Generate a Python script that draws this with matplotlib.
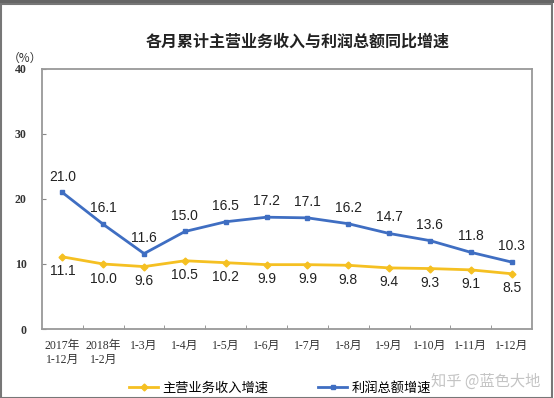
import matplotlib
matplotlib.use("Agg")
import matplotlib.pyplot as plt
from matplotlib.patches import Rectangle
from matplotlib.ticker import FixedLocator

# data
categories = ['2017年\n1-12月', '2018年\n1-2月', '1-3月', '1-4月', '1-5月', '1-6月',
              '1-7月', '1-8月', '1-9月', '1-10月', '1-11月', '1-12月']
revenue = [11.1, 10.0, 9.6, 10.5, 10.2, 9.9, 9.9, 9.8, 9.4, 9.3, 9.1, 8.5]
profit = [21.0, 16.1, 11.6, 15.0, 16.5, 17.2, 17.1, 16.2, 14.7, 13.6, 11.8, 10.3]
y_ticks = [0, 10, 20, 30, 40]

cjk = ['Noto Sans CJK SC', 'DejaVu Sans']
serif = ['Liberation Serif', 'Noto Sans CJK SC']
yellow = '#F5C022'
blue = '#3F6EC2'

fig = plt.figure(figsize=(5.54, 3.98), dpi=100)
ax = fig.add_axes([42/554, 1-329/398, (532-42)/554, (329-69)/398])

x = list(range(len(categories)))
ax.plot(x, revenue, color=yellow, lw=2, marker='D', ms=3.5, label='主营业务收入增速')
ax.plot(x, profit, color=blue, lw=2, marker='s', ms=3.5, label='利润总额增速')

for i, v in enumerate(profit):
    ax.annotate(f'{v:.1f}', (i, v), xytext=(0, 11.5), textcoords='offset points',
                ha='center', va='center', fontsize=10, family='Liberation Sans', color='#222')
for i, v in enumerate(revenue):
    ax.annotate(f'{v:.1f}', (i, v), xytext=(0, -10.5), textcoords='offset points',
                ha='center', va='center', fontsize=10, family='Liberation Sans', color='#222')

ax.set_xlim(-0.5, len(categories) - 0.5)
ax.set_ylim(0, 40)
ax.set_yticks(y_ticks)
ax.set_yticklabels([str(t) for t in y_ticks], family=serif, fontsize=8.5, fontweight='bold', color='#333')
ax.set_xticks(x)
ax.set_xticklabels(categories, family=serif, fontsize=8.5, color='#333', linespacing=1.15)
ax.xaxis.set_minor_locator(FixedLocator([i + 0.5 for i in range(len(categories) - 1)]))
ax.tick_params(axis='x', which='major', length=0, pad=8)
ax.tick_params(axis='x', which='minor', direction='in', length=3, color='#888')
ax.tick_params(axis='y', direction='in', length=3, color='#888', pad=11)
for s in ax.spines.values():
    s.set_color('#999')
    s.set_linewidth(1.3)

fig.text(298/554, 1-42/398, '各月累计主营业务收入与利润总额同比增速', ha='center', va='center',
         family=cjk, fontsize=11.5, fontweight='bold', color='#222')
fig.text(25/554, 1-58/398, '（%）', ha='center', va='center', family=cjk, fontsize=8.5, color='#333')

fig.legend(loc='center', bbox_to_anchor=(280/554, 1-388/398), ncol=2, frameon=False,
           prop={'family': cjk, 'size': 9.5}, handlelength=2.2, columnspacing=3.8, handletextpad=0.3)

fig.text(486/554, 1-381/398, '知乎 @蓝色大地', ha='center', va='center', family=cjk,
         fontsize=11, color='#c4c4c4')

# outer frame of the screenshot
fig.add_artist(Rectangle((0.002, 0.0), 0.994, 0.99, transform=fig.transFigure,
                         fill=False, edgecolor='#777', lw=1.5))
fig.add_artist(Rectangle((0, 0.992), 1, 0.008, transform=fig.transFigure,
                         color='#666', lw=0))

fig.savefig('out.png', dpi=100)
